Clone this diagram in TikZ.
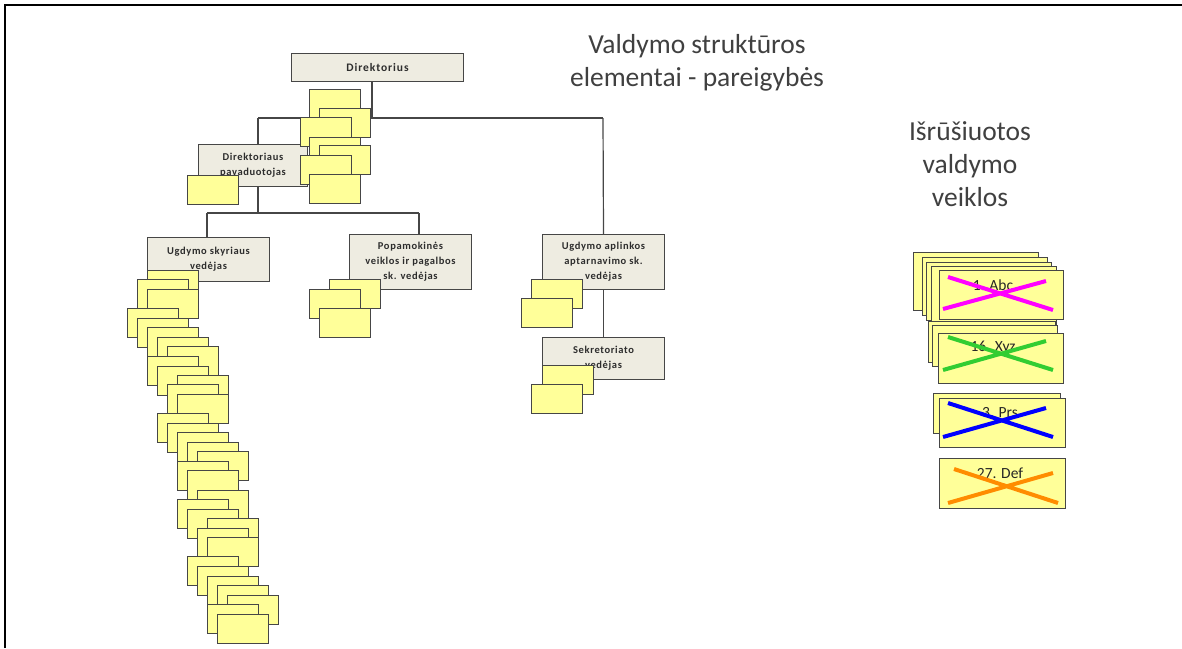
\documentclass[tikz,border=0pt]{standalone}
\usepackage{fontspec}
\setmainfont{Carlito}
\usetikzlibrary{positioning}

\definecolor{orgfill}{RGB}{238,236,225}
\definecolor{notefill}{RGB}{255,255,153}
\definecolor{linegray}{RGB}{70,70,70}
\definecolor{textgray}{RGB}{64,64,64}
\definecolor{boxtext}{RGB}{45,45,45}
\definecolor{crossmagenta}{RGB}{255,0,255}
\definecolor{crossgreen}{RGB}{50,205,50}
\definecolor{crossblue}{RGB}{0,0,255}
\definecolor{crossorange}{RGB}{255,140,0}

\tikzset{
  orgbox/.style={draw=linegray,fill=orgfill,line width=1pt,inner sep=0pt,align=center,
    font=\fontsize{10.5}{15}\selectfont\bfseries\addfontfeatures{LetterSpace=6},
    text=boxtext,minimum width=122,anchor=north west},
  note/.style={draw=linegray,fill=notefill,line width=1pt,inner sep=0pt,
    minimum width=51,minimum height=29,anchor=north west},
  card/.style={draw=linegray,fill=notefill,line width=1pt,inner sep=0pt,
    minimum width=124,minimum height=49,anchor=north west},
  cardtext/.style={font=\fontsize{15.5}{15}\selectfont,text=black!85,anchor=center},
  title/.style={font=\fontsize{27.5}{33}\selectfont,text=textgray,align=center},
  conn/.style={draw=linegray,line width=1.2pt},
  cross/.style={line width=4pt}
}

\begin{document}
\begin{tikzpicture}[x=1pt,y=-1pt]
  \useasboundingbox (0,0) rectangle (1182,648);
  % frame
  \draw[line width=2.5pt] (5,648) -- (5,5) -- (1182,5);

  % titles
  \node[title] (titel) at (697,63) {Valdymo struktūros\\elementai - pareigybės};
  \node[title] (veikl) at (970,164) {Išrūšiuotos\\valdymo\\veiklos};

  % org boxes
  \node[orgbox,minimum width=172,minimum height=28,
    font=\fontsize{11.5}{15}\selectfont\bfseries\addfontfeatures{LetterSpace=8}] (dir) at (291,53) {Direktorius};
  \node[orgbox,minimum width=109,minimum height=42] (pav) at (198,144) {Direktoriaus\\pavaduotojas};
  \node[orgbox,minimum height=44] (skyr) at (147,237) {Ugdymo skyriaus\\vedėjas};
  \node[orgbox,minimum height=55] (popam) at (349,234) {Popamokinės\\veiklos ir pagalbos\\sk. vedėjas};
  \node[orgbox,minimum height=55] (aplink) at (542,234) {Ugdymo aplinkos\\aptarnavimo sk.\\vedėjas};
  \node[orgbox,minimum height=42] (sekr) at (542,337) {Sekretoriato\\vedėjas};

  % connectors
  \coordinate (j0) at (372,118);
  \coordinate (busL) at (258,118);
  \coordinate (busR) at (603,118);
  \coordinate (s1) at (207,213);
  \coordinate (s2) at (419,213);
  \draw[conn] (dir.south -| j0) -- (j0);
  \draw[conn] (busL) -- (busR);
  \draw[conn] (busL) -- (busL |- pav.north);
  \draw[conn] (pav.south -| busL) -- (busL |- s1);
  \draw[conn] (s1) -- (s2);
  \draw[conn] (s1) -- (s1 |- skyr.north);
  \draw[conn] (s2) -- (s2 |- popam.north);
  \draw[conn] (busR) -- (aplink.north);
  \draw[conn] (aplink.south) -- (sekr.north);

  % sticky notes
  \foreach \x/\y [count=\i] in {309/89,319/108,300/117,309/137,319/145,300/155,309/174,187/175}
    \node[note] (d\i) at (\x,\y) {};
  \foreach \x/\y [count=\i] in {329/279,309/289,319/308}
    \node[note] (p\i) at (\x,\y) {};
  \foreach \x/\y [count=\i] in {531/279,521/298}
    \node[note] (a\i) at (\x,\y) {};
  \foreach \x/\y [count=\i] in {542/365,531/384}
    \node[note] (k\i) at (\x,\y) {};
  \foreach \x/\y [count=\i] in {147/270,137/279,147/289,127/308,137/318,147/327,157/337,167/346,
      147/356,157/366,177/375,167/384,177/394,157/413,167/423,177/432,187/442,197/451,177/461,
      187/470,197/490,177/499,187/509,207/518,197/528,207/537,187/556,197/566,207/576,217/585,
      227/595,207/604,217/614}
    \node[note] (u\i) at (\x,\y) {};

  % sorted activities
  \foreach \x/\y [count=\i] in {913/252,922/257,926/262,931/266}
    \node[card,minimum width=125,minimum height=58] (b\i) at (\x,\y) {};
  \node[card] (c1) at (939,270) {};
  \node[cardtext] (t1) at (993,285) {1. Abc};
  \draw[cross,crossmagenta] (948,277) -- (1053,310) (943,309) -- (1046,281);

  \node[card,minimum width=127,minimum height=41] (b5) at (928,321) {};
  \node[card,minimum width=125,minimum height=41] (b6) at (932,325) {};
  \node[card,minimum width=125,minimum height=50] (c2) at (938,333) {};
  \node[cardtext] (t2) at (993,348) {16. Xyz};
  \draw[cross,crossgreen] (948,337) -- (1053,370) (943,370) -- (1046,341);

  \node[card,minimum width=127,minimum height=40] (b7) at (933,393) {};
  \node[card,minimum width=126] (c3) at (939,398) {};
  \node[cardtext] (t3) at (1000,413) {3. Prs};
  \draw[cross,crossblue] (948,403) -- (1053,437) (943,437) -- (1046,408);

  \node[card,minimum width=126,minimum height=50] (c4) at (939,458) {};
  \node[cardtext] (t4) at (1000,473) {27. Def};
  \draw[cross,crossorange] (954,469) -- (1058,503) (948,503) -- (1053,473);
\end{tikzpicture}
\end{document}
